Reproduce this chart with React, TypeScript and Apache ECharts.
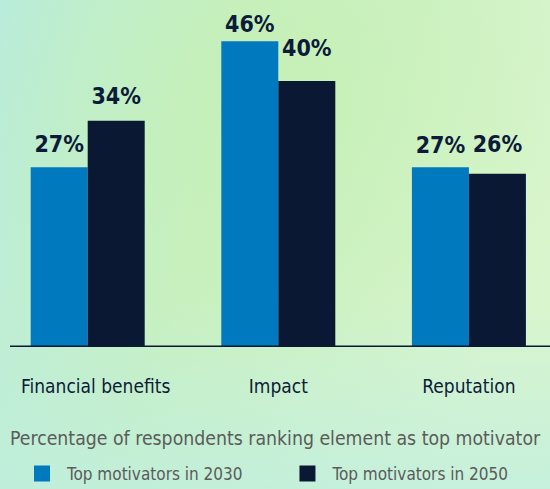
import React, { useEffect, useRef } from "react";
import * as echarts from "echarts";

const categories = ["Financial benefits", "Impact", "Reputation"];
const seriesNames = ["Top motivators in 2030", "Top motivators in 2050"];
const values2030 = [27, 46, 27];
const values2050 = [34, 40, 26];
const titleText = "Percentage of respondents ranking element as top motivator";

const FONT = "'DejaVu Sans Condensed', 'Liberation Sans', sans-serif";
const BLUE = "#0179bf";
const NAVY = "#0a1833";
const TEXT_NAVY = "#0d1b3a";
const GREY = "#5b5b5b";

// label lift above each bar (style only)
const lift2030 = [11.5, 6, 11];
const lift2050 = [13.5, 21.5, 18];

const GRID_TOP = 14.75;
const GRID_BOTTOM = 143;

export default function App() {
  const ref = useRef<HTMLDivElement>(null);
  useEffect(() => {
    if (!ref.current) return;
    const chart = echarts.init(ref.current, null, { renderer: "svg" });
    const mkData = (vals: number[], lifts: number[]) =>
      vals.map((v, i) => ({ value: v, label: { distance: lifts[i] } }));
    const labelStyle = {
      show: true,
      position: "top",
      formatter: "{c}%",
      fontFamily: FONT,
      fontWeight: "bold",
      fontSize: 23,
      color: TEXT_NAVY,
    };
    chart.setOption({
      animation: false,
      backgroundColor: {
        type: "linear",
        x: 0,
        y: 0,
        x2: 1,
        y2: 0.3,
        colorStops: [
          { offset: 0, color: "#b8ecdf" },
          { offset: 0.45, color: "#c8f0c2" },
          { offset: 1, color: "#d9f5cd" },
        ],
      },
      graphic: [
        {
          type: "rect",
          silent: true,
          z: -10,
          shape: { x: 0, y: 0, width: 550, height: 489 },
          style: {
            fill: {
              type: "radial",
              x: 0.5,
              y: 0.2,
              r: 0.6,
              colorStops: [
                { offset: 0, color: "rgba(196,240,176,0.7)" },
                { offset: 1, color: "rgba(196,240,176,0)" },
              ],
            },
          },
        },
        {
          type: "rect",
          silent: true,
          z: -9,
          shape: { x: 0, y: 300, width: 550, height: 189 },
          style: {
            fill: {
              type: "linear",
              x: 0,
              y: 0,
              x2: 0,
              y2: 1,
              colorStops: [
                { offset: 0, color: "rgba(190,238,226,0)" },
                { offset: 1, color: "rgba(190,238,226,0.7)" },
              ],
            },
          },
        },
        {
          type: "line",
          silent: true,
          z: 10,
          shape: { x1: 10, y1: 489 - GRID_BOTTOM + 0.3, x2: 550, y2: 489 - GRID_BOTTOM + 0.3 },
          style: { stroke: NAVY, lineWidth: 1.5 },
        },
      ],
      title: {
        text: titleText,
        left: 10,
        top: 429,
        padding: 0,
        textStyle: { fontFamily: FONT, fontSize: 19.3, fontWeight: "normal", color: GREY },
      },
      legend: {
        data: seriesNames,
        left: 34,
        top: 465,
        padding: 0,
        width: 540,
        icon: "rect",
        itemWidth: 16,
        itemHeight: 16,
        itemGap: 57,
        textStyle: { fontFamily: FONT, fontSize: 17, color: GREY, padding: [0, 0, 0, 12] },
      },
      grid: {
        left: -7.6,
        width: 571.8,
        top: GRID_TOP,
        bottom: GRID_BOTTOM,
        outerBoundsMode: "none",
        containLabel: false,
      },
      xAxis: {
        type: "category",
        data: categories,
        axisLine: { show: false },
        axisTick: { show: false },
        axisLabel: {
          interval: 0,
          margin: 30,
          fontFamily: FONT,
          fontSize: 19,
          color: TEXT_NAVY,
          formatter: (v: string, i: number) => (i === 0 ? `{a|${v}}` : v),
          rich: { a: { fontFamily: FONT, fontSize: 19, color: TEXT_NAVY, padding: [0, 0, 0, 16] } },
        },
      },
      yAxis: { type: "value", min: 0, max: 50, show: false, splitLine: { show: false } },
      series: [
        {
          name: seriesNames[0],
          type: "bar",
          barWidth: 57,
          barGap: "0%",
          itemStyle: { color: BLUE },
          label: labelStyle,
          data: mkData(values2030, lift2030),
        },
        {
          name: seriesNames[1],
          type: "bar",
          barWidth: 57,
          barGap: "0%",
          itemStyle: { color: NAVY },
          label: labelStyle,
          data: mkData(values2050, lift2050),
        },
      ],
    });
    return () => chart.dispose();
  }, []);
  return (
    <div
      ref={ref}
      style={{ position: "fixed", left: 0, top: 0, width: 550, height: 489 }}
    />
  );
}
